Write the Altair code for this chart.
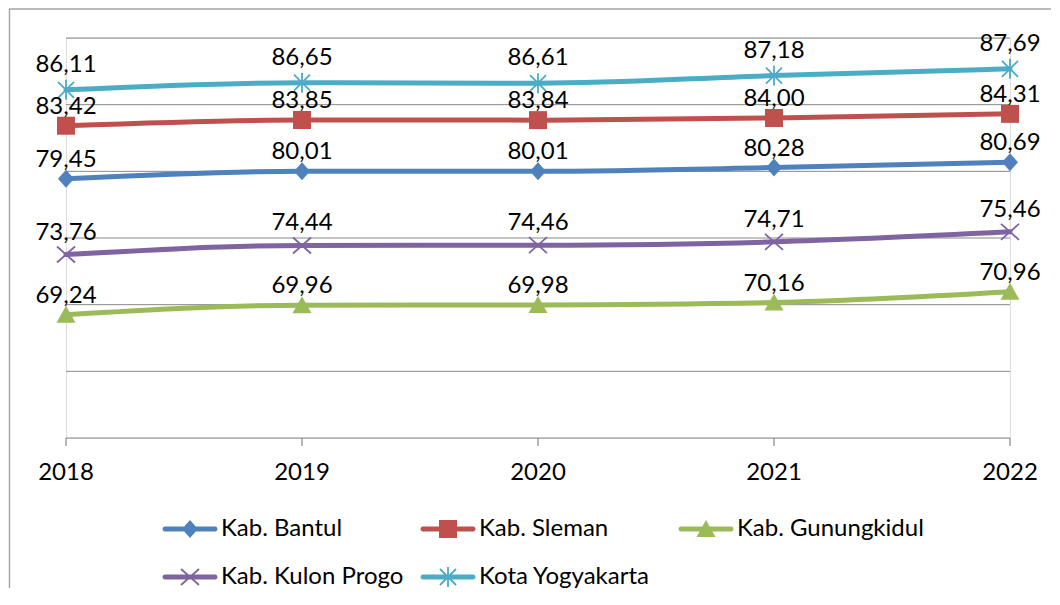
import math
import altair as alt
import pandas as pd

# ---------------- data ----------------
years = [2018, 2019, 2020, 2021, 2022]
series_names = ["Kab. Bantul", "Kab. Sleman", "Kab. Gunungkidul",
                "Kab. Kulon Progo", "Kota Yogyakarta"]
bantul = [79.45, 80.01, 80.01, 80.28, 80.69]
sleman = [83.42, 83.85, 83.84, 84.00, 84.31]
gunungkidul = [69.24, 69.96, 69.98, 70.16, 70.96]
kulon_progo = [73.76, 74.44, 74.46, 74.71, 75.46]
yogyakarta = [86.11, 86.65, 86.61, 87.18, 87.69]
grid_values = [60, 65, 70, 75, 80, 85, 90]

colors = ["#4F81BD", "#C0504D", "#9BBB59", "#8064A2", "#4BACC6"]

rows = []
for name, vals in zip(series_names, [bantul, sleman, gunungkidul, kulon_progo, yogyakarta]):
    for yr, v in zip(years, vals):
        rows.append({"series": name, "year": yr, "value": v,
                     "label": f"{v:.2f}".replace(".", ",")})
df = pd.DataFrame(rows)
years_df = pd.DataFrame({"year": years, "base": [grid_values[0]] * len(years)})
grid_df = pd.DataFrame({"g": grid_values})

# ---------------- marker shapes (custom SVG paths) ----------------
U = 15.0  # px per path unit when symbol size = 900


def oriented(pts):
    a = 0.0
    for i in range(len(pts)):
        x1, y1 = pts[i]
        x2, y2 = pts[(i + 1) % len(pts)]
        a += x1 * y2 - x2 * y1
    return pts if a > 0 else pts[::-1]


def fmt(pts):
    pts = oriented(pts)
    return "M" + "L".join(f"{x / U:.4f},{y / U:.4f}" for x, y in pts) + "Z"


def bar(x1, y1, x2, y2, t):
    dx, dy = x2 - x1, y2 - y1
    L = math.hypot(dx, dy)
    nx, ny = -dy / L * t / 2, dx / L * t / 2
    return fmt([(x1 + nx, y1 + ny), (x2 + nx, y2 + ny), (x2 - nx, y2 - ny), (x1 - nx, y1 - ny)])


def capsule(half_len, t):
    r = t / 2
    pts = []
    cx = half_len - r
    for k in range(7):
        th = math.radians(-90 + 30 * k)
        pts.append((cx + r * math.cos(th), r * math.sin(th)))
    cx = -half_len + r
    for k in range(7):
        th = math.radians(90 + 30 * k)
        pts.append((cx + r * math.cos(th), r * math.sin(th)))
    return fmt(pts)


diamond = fmt([(0, -9), (8, 0), (0, 9), (-8, 0)])
square = fmt([(-9, -9), (9, -9), (9, 9), (-9, 9)])
triangle = fmt([(0, -9), (9.5, 8), (-9.5, 8)])
xmark = bar(-9, -8, 9, 8, 1.8) + bar(-9, 8, 9, -8, 1.8)
star = bar(-8, -8, 8, 8, 1.8) + bar(-8, 8, 8, -8, 1.8) + bar(0, -10, 0, 10, 1.8)
markers = [diamond, square, triangle, xmark, star]
legend_paths = [capsule(27.5, 5) + m for m in markers]
label_dy = [-12, -12, -12, -15, -18]
tick_path = fmt([(-0.6, 0), (0.6, 0), (0.6, 8), (-0.6, 8)])  # 8px tick below axis

# ---------------- encodings ----------------
FONT = "Lato"
FS = 24
GRID = "#898989"
W, H = 944, 400

x_scale = alt.Scale(domain=[years[0], years[-1]], nice=False, zero=False)
y_scale = alt.Scale(domain=[grid_values[0], grid_values[-1]], nice=False, zero=False)
x_enc = alt.X("year:Q", scale=x_scale, axis=None)
y_enc = alt.Y("value:Q", scale=y_scale, axis=None)

base = alt.Chart(df)
layers = []

# horizontal gridlines (incl. category axis line at the bottom)
layers.append(alt.Chart(grid_df).mark_rule(color=GRID, strokeWidth=1).encode(
    y=alt.Y("g:Q", scale=y_scale, axis=None)))
# category-axis tick marks and labels
layers.append(alt.Chart(years_df).mark_point(shape=tick_path, size=900, filled=True,
                                             strokeWidth=0, opacity=1, color=GRID).encode(
    x=x_enc, y=alt.Y("base:Q", scale=y_scale, axis=None)))
layers.append(alt.Chart(years_df).mark_text(font=FONT, fontSize=FS, baseline="top", dy=23,
                                            color="black").encode(
    x=x_enc, y=alt.Y("base:Q", scale=y_scale, axis=None),
    text=alt.Text("year:Q", format="d")))

for name, col, mk in zip(series_names, colors, markers):
    sub = base.transform_filter(alt.datum.series == name)
    layers.append(sub.mark_line(strokeWidth=5, interpolate="monotone", color=col,
                                strokeCap="round").encode(x=x_enc, y=y_enc))
    layers.append(sub.mark_point(shape=mk, size=900, filled=True, strokeWidth=0,
                                 opacity=1, color=col).encode(x=x_enc, y=y_enc))

for name, dy in zip(series_names, label_dy):
    sub = base.transform_filter(alt.datum.series == name)
    layers.append(sub.mark_text(font=FONT, fontSize=FS, dy=dy, baseline="alphabetic",
                                color="black").encode(x=x_enc, y=y_enc, text="label:N"))

legend = alt.Legend(orient="none", legendX=109, legendY=476, columns=3, gridAlign="all",
                    direction="horizontal",
                    symbolSize=900, symbolStrokeWidth=0, symbolOpacity=1,
                    labelFont=FONT, labelFontSize=FS, labelColor="black", labelLimit=400,
                    labelOffset=16, columnPadding=12, rowPadding=21, title=None,
                    padding=0)
color_scale = alt.Scale(domain=series_names, range=colors)
shape_scale = alt.Scale(domain=series_names, range=legend_paths)

layers.append(base.transform_filter("false").mark_point(filled=True, opacity=1, strokeWidth=0)
              .encode(x=x_enc, y=y_enc,
                      color=alt.Color("series:N", scale=color_scale, legend=legend),
                      shape=alt.Shape("series:N", scale=shape_scale, legend=legend)))

# frame lines (chart-area border, left and top)
frame_data = alt.Data(values=[{"f": 1}])
layers.append(alt.Chart(frame_data).mark_rule(color="#A6A6A6", strokeWidth=1.5).encode(
    x=alt.value(-56.5), y=alt.value(-29), y2=alt.value(550)))
layers.append(alt.Chart(frame_data).mark_rule(color="#A6A6A6", strokeWidth=1.5).encode(
    x=alt.value(-57), x2=alt.value(985), y=alt.value(-29)))

chart = (alt.layer(*layers)
         .properties(width=W, height=H, padding=0)
         .configure_view(strokeWidth=0, stroke="transparent")
         .configure(font=FONT))

chart.save("out.html", embed_options={"renderer": "svg", "actions": False})
